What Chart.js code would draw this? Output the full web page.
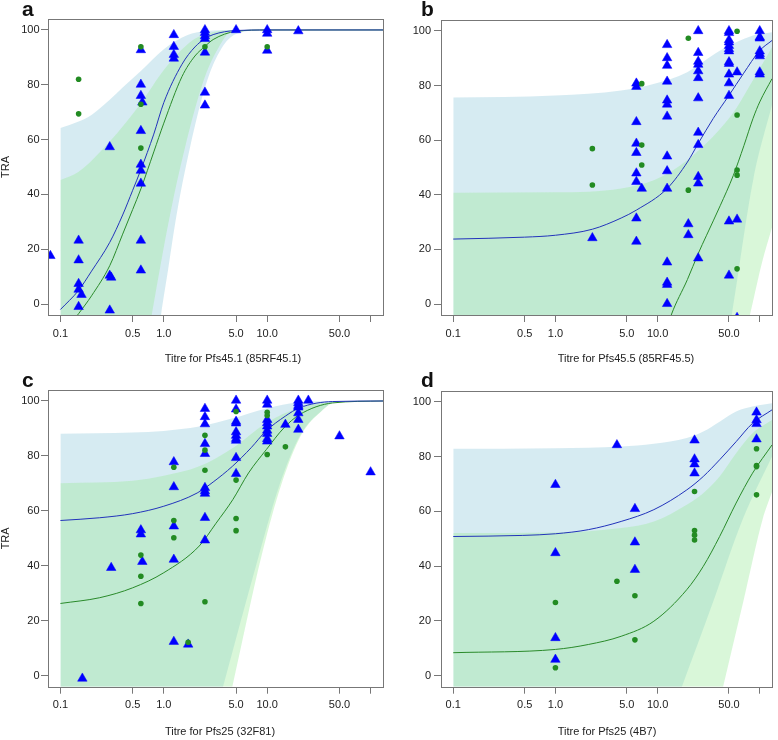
<!DOCTYPE html>
<html>
<head>
<meta charset="utf-8">
<script src="https://cdn.jsdelivr.net/npm/chart.js@4.4.0/dist/chart.umd.min.js"></script>
<style>
  body { margin: 0; background: #fff; width: 778px; height: 740px; position: relative; overflow: hidden;
         font-family: "Liberation Sans", Arial, sans-serif; }
  canvas { position: absolute; }
  .tag { position: absolute; font-weight: bold; font-size: 21px; line-height: 21px; color: #111; }
  .xlab { position: absolute; width: 300px; text-align: center; font-size: 11px; line-height: 13px; color: #222;
          white-space: nowrap; }
</style>
</head>
<body>
<canvas id="pa" width="389" height="370" style="left:0;top:0"></canvas>
<canvas id="pb" width="389" height="370" style="left:389px;top:0"></canvas>
<canvas id="pc" width="389" height="370" style="left:0;top:370px"></canvas>
<canvas id="pd" width="389" height="370" style="left:389px;top:370px"></canvas>
<div class="tag" style="left:22px;top:-2px">a</div>
<div class="tag" style="left:421px;top:-2px">b</div>
<div class="tag" style="left:22px;top:369px">c</div>
<div class="tag" style="left:421px;top:369px">d</div>
<div class="xlab" style="left:83px;top:352px">Titre for Pfs45.1 (85RF45.1)</div>
<div class="xlab" style="left:476px;top:352px">Titre for Pfs45.5 (85RF45.5)</div>
<div class="xlab" style="left:70px;top:725px">Titre for Pfs25 (32F81)</div>
<div class="xlab" style="left:457px;top:725px">Titre for Pfs25 (4B7)</div>
<script>
// axis ticks shared by all four panels
const xTicks = [0.1, 0.5, 1, 5, 10, 50, 100];
const xTickLabels = ['0.1', '0.5', '1.0', '5.0', '10.0', '50.0', ''];
const yTicks = [0, 20, 40, 60, 80, 100];

// panel a - Pfs45.1 (85RF45.1)
const aTri = [[0.08,17.6],[0.15,23.2],[0.15,16],[0.15,7.4],[0.15,5.3],[0.16,3.4],[0.15,-1],
  [0.3,57.3],[0.3,10.4],[0.31,9.7],[0.3,-2.3],
  [0.6,92.7],[0.6,80.1],[0.6,76],[0.62,73.6],[0.6,63.2],[0.6,50.9],[0.6,48.7],[0.6,44],[0.6,23.2],[0.6,12.3],
  [1.25,98.2],[1.25,93.9],[1.25,91],[1.25,89.6],
  [2.5,100],[2.5,99],[2.5,97.8],[2.5,96.8],[2.5,91.8],[2.5,77.2],[2.5,72.5],
  [5,100],[10,100],[10,98.7],[10,92.5],[20,99.6]];
const aDot = [[0.15,82],[0.15,69.4],[0.6,93.9],[0.6,72.9],[0.6,56.9],[2.5,93.9],[10,93.9]];
const aBlueFit = [[0.1,-2],[0.15,5],[0.2,12],[0.3,22.5],[0.4,32.5],[0.5,41.5],[0.6,49],[0.8,62],[1,73.5],
  [1.5,87.5],[2,93.8],[2.5,96.8],[3,98.3],[5,99.8],[10,100],[131.8,100]];
const aGreenFit = [[0.1,-12],[0.15,-3.5],[0.2,3],[0.3,14],[0.4,25.5],[0.5,34.5],[0.6,42],[0.8,55.5],[1,66],
  [1.5,83],[2,90.5],[2.5,94],[3,96.5],[5,99.5],[10,100],[131.8,100]];
const aBlueHi = [[0.1,64.2],[0.15,66.6],[0.2,69],[0.3,74.5],[0.4,79],[0.6,85],[1,93],[1.7,98.2],[2.5,99.5],[5,100],[131.8,100]];
const aBlueLo = [[0.1,-120],[0.5,-60],[0.8,-25],[0.94,-4],[1.1,12.5],[1.33,32.6],[1.79,57],[2.6,81],[3.62,93.3],[5,98.5],[10,100],[131.8,100]];
const aGreenHi = [[0.1,45.3],[0.15,48.3],[0.3,59.3],[0.6,73.3],[1.03,86],[1.73,95.1],[2.5,98.4],[5,100],[131.8,100]];
const aGreenLo = [[0.1,-140],[0.5,-45],[0.65,-20],[0.764,-4],[1.15,32.6],[1.6,56.9],[2.41,81.2],[3.36,93.3],[4.53,99.4],[10,100],[131.8,100]];

// panel b - Pfs45.5 (85RF45.5)
const bTri = [[2.3,24.2],
  [6.2,80.8],[6.2,79.6],[6.2,66.7],[6.2,58.8],[6.2,55.4],[6.2,47.9],[6.2,44.8],[6.2,31.4],[6.2,22.9],[7,42.3],
  [12.4,94.9],[12.4,90.1],[12.4,87.3],[12.4,81.5],[12.4,74.6],[12.4,73.1],[12.4,68.7],[12.4,54.1],[12.4,48.7],
  [12.4,42.3],[12.4,15.3],[12.4,7.9],[12.4,7.1],[12.4,0.1],
  [20,29.3],[20,25.3],
  [25,100],[25,92],[25,88.8],[25,87.7],[25,85.3],[25,82.8],[25,75.4],[25,62.8],[25,58.3],[25,46.6],[25,44.2],[25,16.8],
  [50,100],[50,99.3],[50,96.7],[50,95.9],[50,94.6],[50,93.4],[50,92.6],[50,88.6],[50,88],[50,84.1],[50,80.9],
  [50,76.3],[50,30.3],[50,10.5],
  [60,84.9],[60,31],[60,-5],
  [100,100],[100,97.7],[100,97.3],[100,92.6],[100,91.6],[100,90.8],[100,84.9],[100,84.1]];
const bDot = [[2.3,56.9],[2.3,43.6],[7,80.7],[7,58.2],[7,50.9],[20,97.3],[20,41.7],
  [60,99.9],[60,69.2],[60,49.1],[60,47.2],[60,12.9]];
const bBlueFit = [[0.1,23.8],[0.5,24.5],[1,25.2],[2.3,27.4],[4.4,31.5],[6.2,34.4],[12.4,42.3],[19.6,52],
  [25,58.8],[35,67.9],[50,76.4],[69,84.3],[100,92.8],[131.8,96.5]];
const bGreenFit = [[10,-20],[13.6,-4],[19.6,9],[25,18.5],[30,25],[41,36],[55,47],[70,58],[86,68],[100,74],[131.8,82.5]];
const bBlueHi = [[0.1,75.6],[1,76.4],[4.4,78.2],[9.3,80.7],[19.5,84.9],[41,92.8],[86,98.3],[131.8,99.5]];
const bBlueLo = [[0.1,-80],[20,-60],[40,-32],[53.3,-4],[86.3,45.4],[131.8,73]];
const bGreenHi = [[0.1,40.8],[1,40.9],[4.4,42.3],[9.3,45.4],[19.5,52.7],[41,64.2],[59.6,72],[86,82],[131.8,94]];
const bGreenLo = [[0.1,-80],[50,-40],[70,-13],[80.2,-4],[105,15],[131.8,28]];

// panel c - Pfs25 (32F81)
const cTri = [[0.163,-1],[0.31,39.3],[0.6,53],[0.6,51.5],[0.62,41.5],
  [1.25,77.8],[1.25,68.7],[1.25,54.4],[1.25,42.3],[1.25,12.4],[1.72,11.4],
  [2.5,97.2],[2.5,94.2],[2.5,91.6],[2.5,84.4],[2.5,80.8],[2.5,68.4],[2.5,67.2],[2.5,66.3],[2.5,57.5],[2.5,49.3],
  [5,100.2],[5,97],[5,92.5],[5,91.9],[5,88.7],[5,87.4],[5,86.3],[5,85.6],[5,79.3],[5,73.5],
  [10,100.2],[10,98.7],[10,93.2],[10,92],[10,90.8],[10,89.3],[10,88.1],[10,86.2],[10,85.3],
  [15,91.4],
  [20,100.2],[20,99.3],[20,98.3],[20,97.7],[20,95.6],[20,93.2],[20,89.6],
  [25,100.2],[50,87.2],[100,74.1]];
const cDot = [[0.6,43.9],[0.6,36.2],[0.6,26.3],[1.25,75.9],[1.25,56.5],[1.25,50.2],[1.72,12.2],
  [2.5,87.5],[2.5,82.1],[2.5,74.8],[2.5,26.9],[5,96.2],[5,71.2],[5,57.2],[5,52.8],
  [10,95.9],[10,94.7],[10,80.5],[15,83.3]];
const cBlueFit = [[0.1,56.5],[0.24,57.5],[0.5,59],[1,61.7],[2.1,66.5],[3,70.5],[4.6,76.2],[7,83],[9.7,89],
  [15,94.5],[20.5,97.5],[43,99.8],[131.8,100]];
const cGreenFit = [[0.1,26.3],[0.24,28.4],[0.5,32],[1,37.5],[2.2,47.2],[3.2,55.5],[4.65,64.1],[6.6,73.8],
  [9.8,82.3],[14.5,90.2],[20.5,95],[43,99.3],[131.8,100]];
const cBlueHi = [[0.1,88.1],[0.5,88.5],[1,89.1],[2.2,90.7],[4.65,93.7],[9.8,97.3],[20.5,99.5],[50,100],[131.8,100]];
const cBlueLo = [[0.1,-100],[2.5,-28],[3.74,-4],[8.1,42.3],[13.2,69.6],[21,87.7],[33,96.2],[48,99.9],[131.8,100]];
const cGreenHi = [[0.1,70.1],[0.5,71],[1,72.8],[2.2,76.2],[4.65,82.9],[9.8,92],[20.5,97.5],[43,99.6],[131.8,100]];
const cGreenLo = [[0.1,-100],[3,-35],[4.6,-4],[9,45],[13.7,69.6],[21.4,87.7],[33.3,96.2],[47.9,99.9],[131.8,100]];

// panel d - Pfs25 (4B7)
const dTri = [[1,69.7],[1,44.8],[1,13.8],[1,5.9],[4,84.2],[6,60.9],[6,48.7],[6,38.7],
  [23,85.9],[23,79],[23,77.2],[23,73.9],[93,96.1],[93,93.3],[93,91.9],[93,86.3]];
const dDot = [[1,26.7],[1,2.9],[4,34.5],[6,29.2],[6,13.1],[23,67.2],[23,53],[23,51.3],[23,49.5],
  [93,82.8],[93,76.7],[93,76.3],[93,66]];
const dBlueFit = [[0.1,50.8],[0.48,51.2],[1,51.8],[2.1,53.3],[4.4,56.3],[9.2,60.6],[19.3,67.8],[28,72.7],
  [40.5,78.8],[58.7,85.4],[85,92.1],[131.8,97]];
const dGreenFit = [[0.1,8.4],[1,9.6],[2.1,11.4],[4.4,14.4],[9.2,19.9],[19.3,31.4],[28,39.9],[40.5,50.8],
  [58.7,63],[85,73.9],[131.8,84.2]];
const dBlueHi = [[0.1,82.8],[1,83],[4.4,83.6],[9.2,84.6],[19.3,86.7],[28,89.1],[40.5,92.7],[58.7,96.4],[85,98.2],[131.8,99.4]];
const dBlueLo = [[0.1,-60],[10,-28],[17.3,-4],[35,27],[68,57],[131.8,80]];
const dGreenHi = [[0.1,52.1],[1,52.3],[4.4,53.9],[9.2,56.3],[19.3,62.4],[28,66.6],[40.5,72.7],[58.7,81.2],[85,88.5],[131.8,93.3]];
const dGreenLo = [[0.1,-80],[30,-30],[43.8,-4],[70,28],[106.6,57],[131.8,67]];

const X_MIN = Math.pow(10, -1.12);
const X_MAX = Math.pow(10, 2.12);
const BLUE_BAND = 'rgba(173,216,230,0.5)';
const GREEN_BAND = 'rgba(160,235,160,0.4)';
const TEXT = '#222';
const FRAME = '#777';

Chart.defaults.font.family = '"Liberation Sans", Arial, sans-serif';
Chart.defaults.font.size = 11;
Chart.defaults.animation = false;

const pts = arr => arr.map(([x, y]) => ({ x, y }));

// R-style box round the plotting region
const boxPlugin = {
  id: 'box',
  afterDraw(chart) {
    const { ctx, chartArea: a } = chart;
    ctx.save();
    ctx.strokeStyle = FRAME;
    ctx.lineWidth = 1;
    ctx.strokeRect(Math.round(a.left) + 0.5, Math.round(a.top) + 0.5,
      Math.round(a.right - a.left), Math.round(a.bottom - a.top));
    ctx.restore();
  }
};

function band(data, fillTo, color, order) {
  return {
    data: pts(data), borderWidth: 0, pointRadius: 0, cubicInterpolationMode: 'monotone',
    backgroundColor: color,
    fill: fillTo === null ? false : { target: fillTo, above: color, below: color },
    order
  };
}

function makePanel(id, p) {
  const datasets = [
    { data: pts(p.dots), showLine: false, pointStyle: 'circle', pointRadius: 2.8, clip: 0,
      pointBackgroundColor: '#228b22', pointBorderColor: '#228b22', pointBorderWidth: 0, order: 0 },
    { data: pts(p.tris), showLine: false, pointStyle: 'triangle', pointRadius: 5.5, clip: 0,
      pointBackgroundColor: '#0000ff', pointBorderColor: '#0000ff', pointBorderWidth: 0.5, order: 1 },
    { data: pts(p.blueFit), borderColor: '#2233bb', borderWidth: 1, pointRadius: 0,
      cubicInterpolationMode: 'monotone', order: 2 },
    { data: pts(p.greenFit), borderColor: '#2a8a2a', borderWidth: 1, pointRadius: 0,
      cubicInterpolationMode: 'monotone', order: 2 },
    band(p.greenHi, 5, GREEN_BAND, 3),
    band(p.greenLo, null, GREEN_BAND, 3),
    band(p.blueHi, 7, BLUE_BAND, 4),
    band(p.blueLo, null, BLUE_BAND, 4)
  ];

  return new Chart(document.getElementById(id), {
    type: 'line',
    data: { datasets },
    plugins: [boxPlugin],
    options: {
      responsive: false,
      events: [],
      layout: { padding: { top: p.top, right: p.right, left: 0, bottom: 0 } },
      plugins: { legend: { display: false }, tooltip: { enabled: false } },
      scales: {
        x: {
          type: 'logarithmic', min: X_MIN, max: X_MAX,
          afterBuildTicks: s => { s.ticks = xTicks.map(v => ({ value: v })); },
          afterFit: s => { s.height = p.xAxisH; },
          ticks: { autoSkip: false, maxRotation: 0, padding: 5, color: TEXT,
                   callback: (v, i) => xTickLabels[i] },
          grid: { drawOnChartArea: false, tickLength: 7, color: FRAME },
          border: { display: false }
        },
        y: {
          min: -4, max: 104,
          afterBuildTicks: s => { s.ticks = yTicks.map(v => ({ value: v })); },
          afterFit: s => { s.width = p.yAxisW; },
          ticks: { padding: p.yPad, color: TEXT },
          grid: { drawOnChartArea: false, tickLength: 7, color: FRAME },
          border: { display: false },
          title: { display: !!p.yTitle, text: p.yTitle || '', color: TEXT,
                   font: { size: 11, lineHeight: 1 }, padding: { top: 0.5, bottom: 0 } }
        }
      }
    }
  });
}

makePanel('pa', { tris: aTri, dots: aDot, blueFit: aBlueFit, greenFit: aGreenFit,
  blueHi: aBlueHi, blueLo: aBlueLo, greenHi: aGreenHi, greenLo: aGreenLo,
  top: 19, right: 6, yAxisW: 48, xAxisH: 55, yPad: 1.5, yTitle: 'TRA' });
makePanel('pb', { tris: bTri, dots: bDot, blueFit: bBlueFit, greenFit: bGreenFit,
  blueHi: bBlueHi, blueLo: bBlueLo, greenHi: bGreenHi, greenLo: bGreenLo,
  top: 20, right: 2, yAxisW: 52, xAxisH: 55, yPad: 3 });
makePanel('pc', { tris: cTri, dots: cDot, blueFit: cBlueFit, greenFit: cGreenFit,
  blueHi: cBlueHi, blueLo: cBlueLo, greenHi: cGreenHi, greenLo: cGreenLo,
  top: 20, right: 6, yAxisW: 48, xAxisH: 53.3, yPad: 1.5, yTitle: 'TRA' });
makePanel('pd', { tris: dTri, dots: dDot, blueFit: dBlueFit, greenFit: dGreenFit,
  blueHi: dBlueHi, blueLo: dBlueLo, greenHi: dGreenHi, greenLo: dGreenLo,
  top: 20.7, right: 2, yAxisW: 52, xAxisH: 53.3, yPad: 3 });
</script>
</body>
</html>
